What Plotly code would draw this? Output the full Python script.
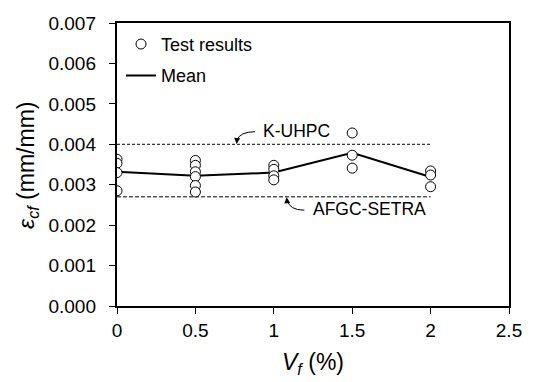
import plotly.graph_objects as go

# Data
vf_levels = [0.0, 0.5, 1.0, 1.5, 2.0]
test_results = {
    0.0: [3.63e-3, 3.53e-3, 3.30e-3, 2.85e-3],
    0.5: [3.60e-3, 3.48e-3, 3.32e-3, 3.20e-3, 2.98e-3, 2.82e-3],
    1.0: [3.48e-3, 3.38e-3, 3.22e-3, 3.12e-3],
    1.5: [4.28e-3, 3.73e-3, 3.41e-3],
    2.0: [3.34e-3, 3.24e-3, 2.95e-3],
}
mean_values = [3.32e-3, 3.22e-3, 3.30e-3, 3.79e-3, 3.19e-3]
k_uhpc_limit = 0.004
afgc_limit = 0.0027
limit_x = [0.0, 2.0]
x_ticks = [0, 0.5, 1, 1.5, 2, 2.5]
y_ticks = [0.000, 0.001, 0.002, 0.003, 0.004, 0.005, 0.006, 0.007]
y_range = [0, 0.007]

FONT = "Liberation Sans, Arial, sans-serif"

tx, ty = [], []
for v in vf_levels:
    for val in test_results[v]:
        tx.append(v)
        ty.append(val)

fig = go.Figure()
fig.add_trace(go.Scatter(x=limit_x, y=[k_uhpc_limit] * 2, mode="lines",
                         line=dict(color="black", width=1, dash="3px,2px"),
                         showlegend=False, hoverinfo="skip"))
fig.add_trace(go.Scatter(x=limit_x, y=[afgc_limit] * 2, mode="lines",
                         line=dict(color="black", width=1, dash="4px,2px"),
                         showlegend=False, hoverinfo="skip"))
fig.add_trace(go.Scatter(x=vf_levels, y=mean_values, mode="lines", name="Mean",
                         line=dict(color="black", width=2), legendgroup="b", legendrank=2))
fig.add_trace(go.Scatter(x=tx, y=ty, mode="markers", name="Test results",
                         marker=dict(symbol="circle", size=10, color="white",
                                     line=dict(color="black", width=1)),
                         legendgroup="a", legendrank=1))
# empty trace on the label axis so that it is drawn
fig.add_trace(go.Scatter(x=[None], y=[None], yaxis="y2", showlegend=False,
                         hoverinfo="skip"))

# curved leader lines
fig.add_shape(type="path", xref="x", yref="y",
              path="M 0.880 0.00431 Q 0.784 0.00431 0.765 0.00410",
              line=dict(color="black", width=1))
fig.add_shape(type="path", xref="x", yref="y",
              path="M 1.195 0.00237 Q 1.100 0.00237 1.085 0.00262",
              line=dict(color="black", width=1))
fig.add_annotation(x=0.763, y=0.00401, ax=0.5, ay=-6, xref="x", yref="y",
                   text="", showarrow=True, arrowhead=2, arrowsize=1.2, arrowwidth=1,
                   arrowcolor="black", standoff=0)
fig.add_annotation(x=1.082, y=0.00269, ax=0.5, ay=6, xref="x", yref="y",
                   text="", showarrow=True, arrowhead=2, arrowsize=1.2, arrowwidth=1,
                   arrowcolor="black", standoff=0)
fig.add_annotation(x=0.92, y=0.00433, xref="x", yref="y", text="K-UHPC",
                   showarrow=False, xanchor="left", yanchor="middle",
                   font=dict(family=FONT, size=17.5, color="black"))
fig.add_annotation(x=1.24, y=0.00239, xref="x", yref="y", text="AFGC-SETRA",
                   showarrow=False, xanchor="left", yanchor="middle",
                   font=dict(family=FONT, size=17.5, color="black"))

L, R = 96, 25
PW = 534 - L - R
x0 = (117 - L) / PW

# y-axis title (rotated text)
fig.add_annotation(x=(28 - L) / PW, y=0.495, xref="paper", yref="paper",
                   text="<i>ε<sub>cf</sub></i> (mm/mm)", textangle=-90,
                   showarrow=False, xanchor="center", yanchor="middle",
                   font=dict(family=FONT, size=23, color="black"))

axis_common = dict(showline=True, linecolor="black", linewidth=2, mirror=True,
                   ticks="outside", ticklen=6, tickcolor="black", tickwidth=1,
                   showgrid=False, zeroline=False, automargin=False,
                   tickfont=dict(family=FONT, size=19, color="black"))
fig.update_layout(
    xaxis=dict(domain=[x0, 1], range=[0, 2.5], tickvals=x_ticks, **axis_common,
               title=dict(text="<i>V<sub>f</sub></i> (%)", standoff=14,
                          font=dict(family=FONT, size=23, color="black"))),
    yaxis=dict(range=y_range, tickvals=y_ticks, showticklabels=False, **axis_common),
    yaxis2=dict(range=y_range, tickvals=y_ticks, tickformat=".3f", overlaying="y",
                anchor="free", position=0, side="left", showline=False,
                ticks="", showgrid=False, zeroline=False, automargin=False,
                tickfont=dict(family=FONT, size=19, color="black")),
)

fig.update_layout(width=534, height=382,
                  margin=dict(l=L, r=R, t=23, b=76),
                  plot_bgcolor="white", paper_bgcolor="white",
                  showlegend=True,
                  legend=dict(x=(121 - L) / PW, y=0.99, xanchor="left", yanchor="top",
                              bgcolor="rgba(0,0,0,0)", traceorder="grouped",
                              tracegroupgap=5,
                              font=dict(family=FONT, size=18, color="black")))

fig.write_html("out.html")
